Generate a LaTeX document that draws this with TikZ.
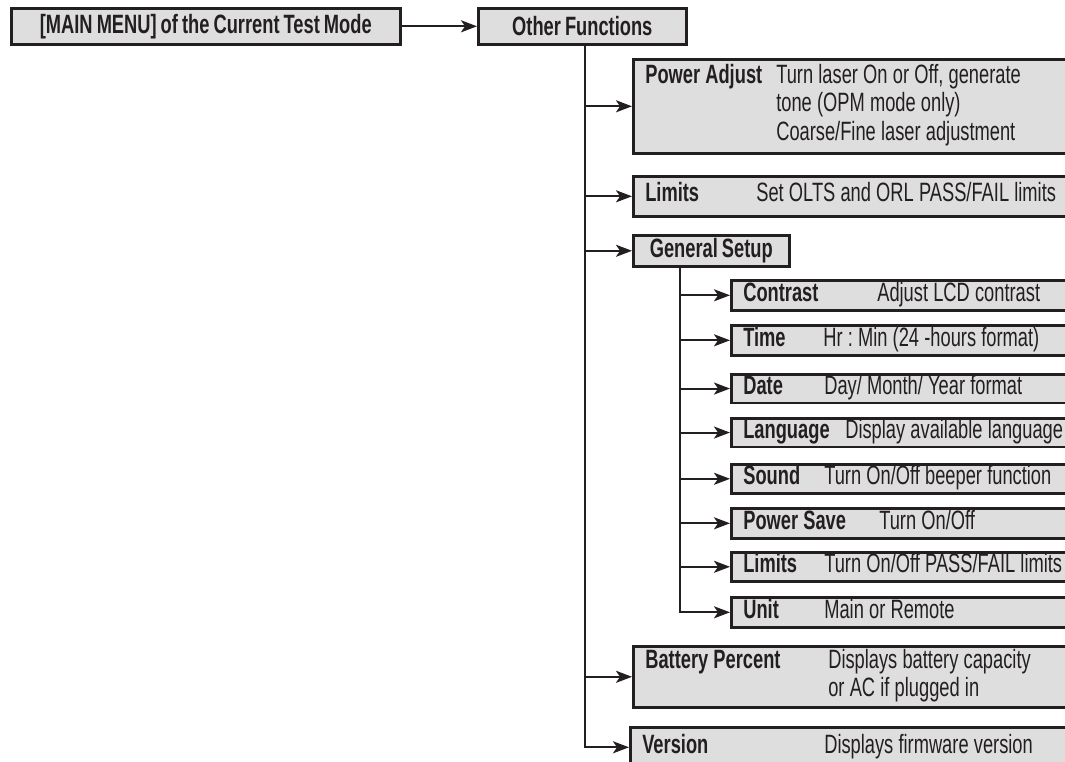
\documentclass[tikz,border=0pt]{standalone}
\usepackage{fontspec}
\setmainfont{Liberation Sans}[FakeStretch=0.69,WordSpace=0.8]
\usetikzlibrary{arrows.meta}
\definecolor{ink}{HTML}{231F20}
\definecolor{panel}{HTML}{DEDEDE}
\newcommand\menuentry[3]{\frenchspacing\spaceskip=5.2pt plus 1pt minus 1pt\relax\makebox[#1][l]{\bfseries\strut #2}\begin{tabular}[t]{@{}l@{}}#3\end{tabular}}

\begin{document}
\begin{tikzpicture}[x=1pt,y=-1pt,font=\fontsize{26.5}{28.5}\selectfont,
                    menubox/.style={draw=ink,fill=panel,line width=2.6pt,inner xsep=12pt,inner ysep=0pt,anchor=north west,align=left,text=ink},
                    wide/.style={menubox,text width=480pt},
                    subwide/.style={menubox,text width=380pt},
                    link/.style={draw=ink,line width=2pt,-{Stealth[length=16pt,width=12pt,inset=4pt]}}]
\useasboundingbox (0,0) rectangle (1065,762);
\clip (0,0) rectangle (1065,762);
% top row
\node[menubox,minimum width=389pt,minimum height=36pt] (main) at (10,7) {\bfseries [MAIN MENU] of the Current Test Mode};
\node[menubox,minimum width=208pt,minimum height=36pt] (other) at (477,7) {\bfseries Other Functions};
% other functions
\node[wide,minimum height=94pt] (power) at (632,58) {\menuentry{131pt}{Power Adjust}{Turn laser On or Off, generate\\tone (OPM mode only)\\Coarse/Fine laser adjustment}};
\node[wide,minimum height=40pt] (limits) at (632,175) {\menuentry{111pt}{Limits}{Set OLTS and ORL PASS/FAIL limits}};
\node[menubox,minimum width=156pt,minimum height=31pt] (setup) at (632,234) {\bfseries General Setup};
\node[wide,minimum height=61pt] (battery) at (632,645) {\menuentry{183pt}{Battery Percent}{Displays battery capacity\\or AC if plugged in}};
\node[wide,minimum height=40pt] (version) at (629,726) {\menuentry{182pt}{Version}{Displays firmware version}};
% general setup
\node[subwide,minimum height=30pt] (contrast) at (730,279) {\menuentry{134pt}{Contrast}{Adjust LCD contrast}};
\node[subwide,minimum height=30pt] (time) at (730,324) {\menuentry{80pt}{Time}{Hr : Min (24 -hours format)}};
\node[subwide,minimum height=28pt] (date) at (730,373) {\menuentry{81pt}{Date}{Day/ Month/ Year format}};
\node[subwide,minimum height=28pt] (lang) at (730,417) {\menuentry{102pt}{Language}{Display available language}};
\node[subwide,minimum height=29pt] (sound) at (730,463) {\menuentry{81pt}{Sound}{Turn On/Off beeper function}};
\node[subwide,minimum height=30pt] (save) at (730,507) {\menuentry{136pt}{Power Save}{Turn On/Off}};
\node[subwide,minimum height=29pt] (glimits) at (730,551) {\menuentry{81pt}{Limits}{Turn On/Off PASS/FAIL limits}};
\node[subwide,minimum height=30pt] (unit) at (730,596) {\menuentry{81pt}{Unit}{Main or Remote}};
% connectors
\draw[link] (main) -- (other);
\coordinate (trunk) at ([xshift=3pt]other.south);
\foreach \n in {power,limits,setup,battery}
  \draw[link] (trunk |- \n.west) -- (\n.west);
\draw[link] (trunk) |- (version.west);
\coordinate (branch) at ([xshift=-31pt]setup.south);
\foreach \n in {contrast,time,date,lang,sound,save,glimits}
  \draw[link] (branch |- \n.west) -- (\n.west);
\draw[link] (branch) |- (unit.west);
\end{tikzpicture}
\end{document}
